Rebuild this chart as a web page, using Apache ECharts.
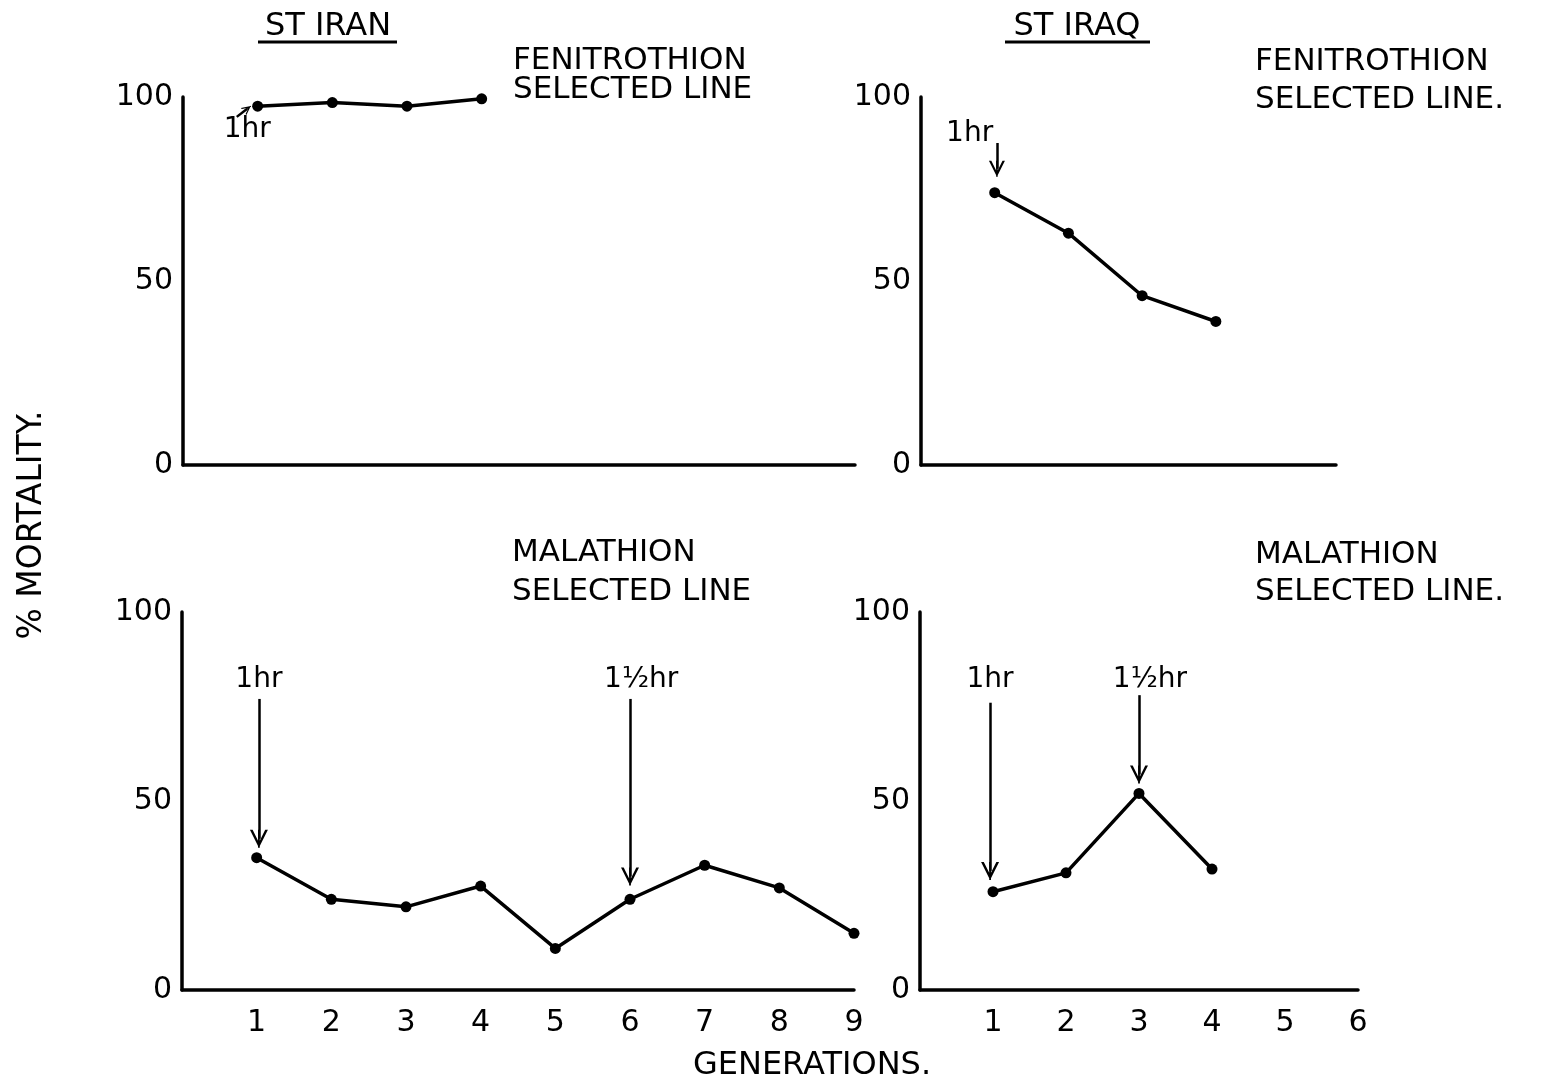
<!DOCTYPE html>
<html><head><meta charset="utf-8">
<script src="https://cdn.jsdelivr.net/npm/echarts@6/dist/echarts.min.js"></script>
<style>html,body{margin:0;padding:0;background:#fff}#c{width:1560px;height:1080px}</style>
</head><body><div id="c"></div>
<script>
// ---- data ----
const yTickValues = [0, 50, 100];
const genTickLabels = ['1','2','3','4','5','6','7','8','9'];

const iranFenGen  = [1, 2, 3, 4];
const iranFenMort = [97.5, 98.5, 97.5, 99.5];

const iraqFenGen  = [1, 2, 3, 4];
const iraqFenMort = [74, 63, 46, 39];

const iranMalGen  = [1, 2, 3, 4, 5, 6, 7, 8, 9];
const iranMalMort = [35, 24, 22, 27.5, 11, 24, 33, 27, 15];

const iraqMalGen  = [1, 2, 3, 4];
const iraqMalMort = [26, 31, 52, 32];

// exposure-time annotations: arrow from -> to (data coords), text anchor
const iranFenNotes = [{ text: '1hr',  from: [0.72, 94.6], to: [0.86, 96.8], textAt: [0.86, 91] }];
const iraqFenNotes = [{ text: '1hr',  from: [1.03, 87.5], to: [1.03, 80.5], textAt: [0.66, 90] }];
const iranMalNotes = [
  { text: '1hr',  from: [1.03, 77], to: [1.03, 40], textAt: [1.03, 82] },
  { text: '1½hr', from: [6.0, 77],  to: [6.0, 30],  textAt: [6.15, 82] }
];
const iraqMalNotes = [
  { text: '1hr',  from: [0.96, 76], to: [0.96, 31.5], textAt: [0.96, 82] },
  { text: '1½hr', from: [3.0, 78],  to: [3.0, 57],  textAt: [3.15, 82] }
];

// ---- chart ----
const FONT = '"DejaVu Sans", sans-serif';
const ARROW = 'path://M0,20 L10,0 L20,20 L17,20 L10,6 L3,20 Z M9,0 L11,0 L11,20 L9,20 Z';

const grids = [
  { left: 183, top: 97,  width: 672, height: 368 },
  { left: 921, top: 97,  width: 415, height: 368 },
  { left: 182, top: 612, width: 672, height: 378 },
  { left: 920, top: 612, width: 438, height: 378 }
];
grids.forEach(g => { g.outerBoundsMode = 'none'; g.containLabel = false; });

function xAxisCfg(idx, max, showLabels) {
  return {
    type: 'value', gridIndex: idx, min: 0, max: max, interval: 1,
    axisLine: { show: true, onZero: false, lineStyle: { color: '#000', width: 3.5 } },
    axisTick: { show: false }, splitLine: { show: false },
    axisLabel: {
      show: showLabels, color: '#000', fontSize: 30, fontFamily: FONT, margin: 18,
      formatter: v => (v >= 1 && v <= genTickLabels.length && Number.isInteger(v)) ? genTickLabels[v - 1] : ''
    }
  };
}
function yAxisCfg(idx) {
  return {
    type: 'value', gridIndex: idx, min: yTickValues[0], max: yTickValues[yTickValues.length - 1],
    interval: yTickValues[1] - yTickValues[0],
    axisLine: { show: true, onZero: false, lineStyle: { color: '#000', width: 3.5 } },
    axisTick: { show: false }, splitLine: { show: false },
    axisLabel: { color: '#000', fontSize: 30, fontFamily: FONT, margin: 10 }
  };
}

function lineSeries(idx, gens, vals, notes, arrowSize) {
  return {
    type: 'line', xAxisIndex: idx, yAxisIndex: idx,
    data: gens.map((g, i) => [g, vals[i]]),
    symbol: 'circle', symbolSize: 11, showSymbol: true,
    lineStyle: { color: '#000', width: 3.5 },
    itemStyle: { color: '#000' },
    animation: false, silent: true,
    markLine: {
      silent: true, animation: false,
      symbol: ['none', ARROW], symbolSize: arrowSize,
      lineStyle: { color: '#000', width: 2.5, type: 'solid' },
      label: { show: false },
      emphasis: { disabled: true },
      data: notes.map(n => [{ coord: n.from }, { coord: n.to }])
    },
    markPoint: {
      silent: true, animation: false,
      symbol: 'circle', symbolSize: 0,
      itemStyle: { color: 'rgba(0,0,0,0)' },
      label: { show: true, position: 'inside', formatter: '{b}', color: '#000', fontSize: 28, fontFamily: FONT },
      data: notes.map(n => ({ name: n.text, coord: n.textAt, value: 0 }))
    }
  };
}

function txt(text, x, y, align, size, extra) {
  return Object.assign({
    type: 'text', x: x, y: y, silent: true,
    style: { text: text, fill: '#000', fontSize: size, fontFamily: FONT,
             textAlign: align, align: align, textVerticalAlign: 'middle', verticalAlign: 'middle' }
  }, extra || {});
}

const option = {
  backgroundColor: '#fff',
  animation: false,
  grid: grids,
  xAxis: [xAxisCfg(0, 9, false), xAxisCfg(1, 5.63, false), xAxisCfg(2, 9, true), xAxisCfg(3, 6, true)],
  yAxis: [yAxisCfg(0), yAxisCfg(1), yAxisCfg(2), yAxisCfg(3)],
  series: [
    lineSeries(0, iranFenGen, iranFenMort, iranFenNotes, 9),
    lineSeries(1, iraqFenGen, iraqFenMort, iraqFenNotes, 16),
    lineSeries(2, iranMalGen, iranMalMort, iranMalNotes, 18),
    lineSeries(3, iraqMalGen, iraqMalMort, iraqMalNotes, 18)
  ],
  graphic: [
    txt('ST IRAN', 328, 27, 'center', 32),
    { type: 'line', silent: true, shape: { x1: 258, y1: 42, x2: 397, y2: 42 }, style: { stroke: '#000', lineWidth: 3 } },
    txt('ST IRAQ', 1077, 27, 'center', 32),
    { type: 'line', silent: true, shape: { x1: 1005, y1: 42, x2: 1150, y2: 42 }, style: { stroke: '#000', lineWidth: 3 } },
    txt('FENITROTHION', 513, 61, 'left', 31),
    txt('SELECTED LINE', 513, 90, 'left', 31),
    txt('FENITROTHION', 1255, 62, 'left', 31),
    txt('SELECTED LINE.', 1255, 100, 'left', 31),
    txt('MALATHION', 512, 553, 'left', 31),
    txt('SELECTED LINE', 512, 592, 'left', 31),
    txt('MALATHION', 1255, 555, 'left', 31),
    txt('SELECTED LINE.', 1255, 592, 'left', 31),
    txt('% MORTALITY.', 32, 525, 'center', 33, { rotation: Math.PI / 2 }),
    txt('GENERATIONS.', 812, 1066, 'center', 32)
  ]
};

const chart = echarts.init(document.getElementById('c'), null, { renderer: 'canvas' });
chart.setOption(option);
</script>
</body></html>
